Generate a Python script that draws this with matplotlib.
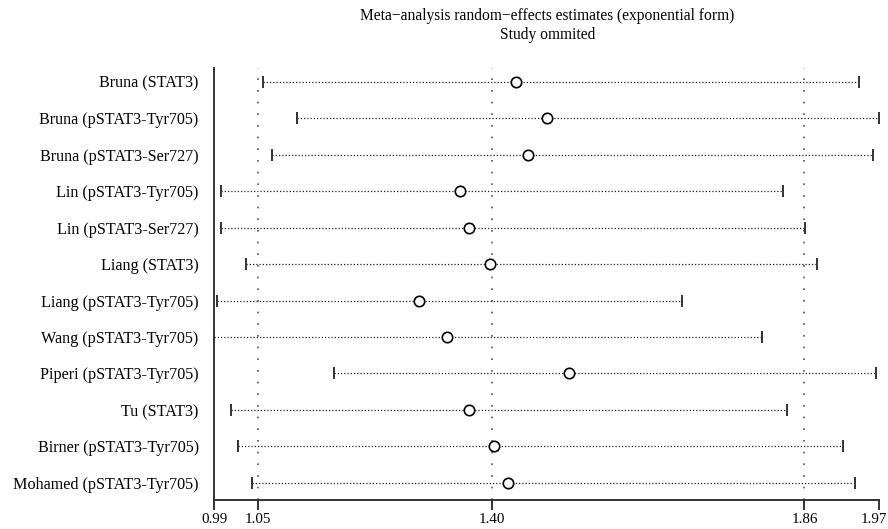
import matplotlib
matplotlib.use("Agg")
import matplotlib.pyplot as plt
import matplotlib.transforms as mtransforms
import numpy as np

plt.rcParams['font.family'] = ['Liberation Serif', 'DejaVu Serif']

studies = ["Bruna (STAT3)", "Bruna (pSTAT3-Tyr705)", "Bruna (pSTAT3-Ser727)",
           "Lin (pSTAT3-Tyr705)", "Lin (pSTAT3-Ser727)", "Liang (STAT3)",
           "Liang (pSTAT3-Tyr705)", "Wang (pSTAT3-Tyr705)", "Piperi (pSTAT3-Tyr705)",
           "Tu (STAT3)", "Birner (pSTAT3-Tyr705)", "Mohamed (pSTAT3-Tyr705)"]
estimate = [1.435, 1.480, 1.452, 1.352, 1.366, 1.397, 1.292, 1.333, 1.513, 1.365, 1.402, 1.423]
lower = [1.062, 1.113, 1.076, 1.000, 1.001, 1.037, 0.994, 0.990, 1.167, 1.015, 1.026, 1.046]
upper = [1.941, 1.970, 1.961, 1.829, 1.861, 1.879, 1.680, 1.798, 1.966, 1.834, 1.917, 1.934]

# overall: lower CI, estimate, upper CI
ref_lines = [1.055, 1.40, 1.86]
tick_pos = [0.99, 1.055, 1.40, 1.86, 1.97]
tick_lab = ["0.99", "1.05", "1.40", "1.86", "1.97"]

fig = plt.figure(figsize=(8.88, 5.29), dpi=100)
ax = fig.add_axes([0.241, 0.0548, 0.749, 0.8167])

y = np.arange(len(studies))
for r in ref_lines:
    ax.axvline(r, color='#555555', lw=1.2, linestyle=(0, (1, 6)), zorder=1)

for i in range(len(studies)):
    ax.plot([lower[i], upper[i]], [y[i], y[i]], color='#222222', lw=0.9,
            linestyle=(0, (1, 1.6)), zorder=2)
ax.plot(lower, y, linestyle='none', marker='|', markersize=9, mew=1.4, color='#333333', zorder=3)
ax.plot(upper, y, linestyle='none', marker='|', markersize=9, mew=1.4, color='#333333', zorder=3)
ax.plot(estimate, y, linestyle='none', marker='o', markersize=7.5, mfc='white', mec='black', mew=1.2, zorder=4)

ax.set_xlim(0.99, 1.97)
ax.set_ylim(len(studies) - 1 + 0.47, -0.38)
ax.set_yticks(y)
ax.set_yticklabels(studies, fontsize=11.6)
ax.tick_params(axis='y', length=0, pad=11)
ax.set_xticks(tick_pos)
ax.set_xticklabels(tick_lab, fontsize=10.8)
ax.tick_params(axis='x', length=7, width=1.4, color='#333333', pad=2)

# keep last tick label inside the figure
last = ax.get_xticklabels()[-1]
last.set_transform(last.get_transform() + mtransforms.ScaledTranslation(-5 / 100, 0, fig.dpi_scale_trans))

for s in ['top', 'right']:
    ax.spines[s].set_visible(False)
for s in ['left', 'bottom']:
    ax.spines[s].set_linewidth(1.4)
    ax.spines[s].set_color('#333333')

fig.text(0.6165, 0.984, "Meta\u2212analysis random\u2212effects estimates (exponential form)\nStudy ommited",
         ha='center', va='top', fontsize=11.2, linespacing=1.25)

fig.savefig("out.png", dpi=100)
